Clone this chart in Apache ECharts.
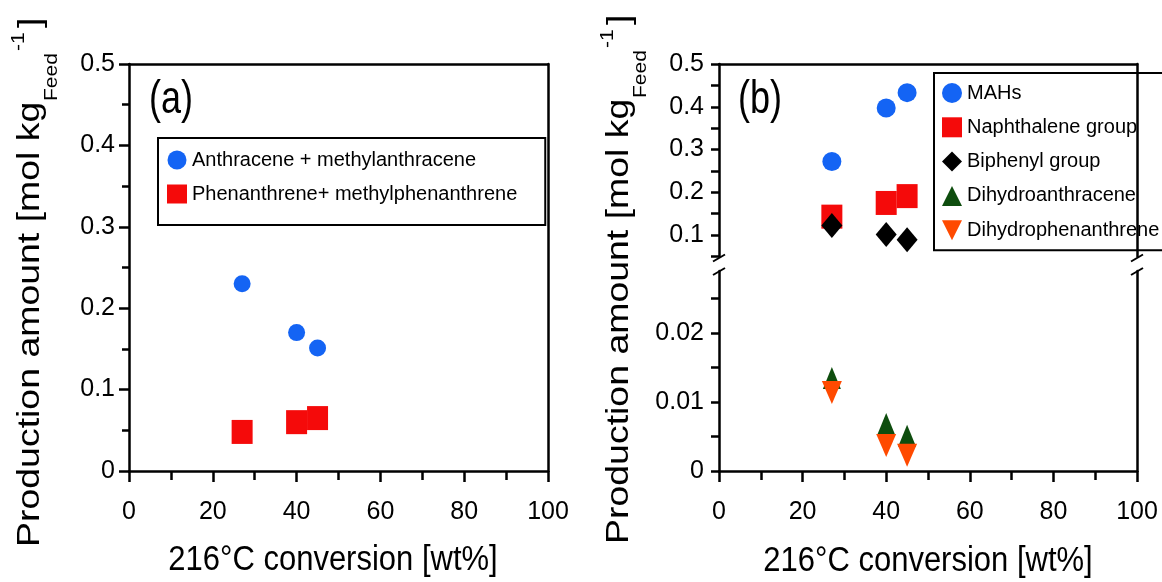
<!DOCTYPE html>
<html>
<head>
<meta charset="utf-8">
<script src="https://cdn.jsdelivr.net/npm/echarts@6/dist/echarts.min.js"></script>
<style>html,body{margin:0;padding:0;background:#fff;}#c{width:1162px;height:582px;}</style>
</head>
<body>
<div id="c"></div>
<script>
// ---------- data ----------
const convA = [27, 40, 45];
const anthracene = [0.230, 0.170, 0.151];
const phenanthrene = [0.048, 0.060, 0.065];

const convB = [27, 40, 45];
const mahs = [0.272, 0.397, 0.433];
const naphthalene = [0.143, 0.175, 0.191];
const biphenyl = [0.122, 0.101, 0.089];
const dihydroanthracene = [0.0135, 0.0068, 0.0051];
const dihydrophenanthrene = [0.0114, 0.0037, 0.0023];

const namesA = ['Anthracene + methylanthracene', 'Phenanthrene+ methylphenanthrene'];
const namesB = ['MAHs', 'Naphthalene group', 'Biphenyl group', 'Dihydroanthracene', 'Dihydrophenanthrene'];

const bTopLabels = [0.1, 0.2, 0.3, 0.4, 0.5];
const bTopTicks = [0.05, 0.1, 0.15, 0.2, 0.25, 0.3, 0.35, 0.4, 0.45, 0.5];
const bBotLabels = [0, 0.01, 0.02];
const bBotTicks = [0, 0.005, 0.01, 0.015, 0.02, 0.025];

const xTitle = '216°C conversion [wt%]';
const yTitleMain = 'Production amount [mol kg';
const yTitleSub = 'Feed';
const yTitleSup = '-1';

// ---------- style ----------
const FONT = "'Liberation Sans', Arial, sans-serif";
const BLACK = '#000';
const LW = 2.5;
const C_BLUE = '#1464F4', C_RED = '#F50A0A', C_BLACK = '#000000', C_GREEN = '#0E4D0E', C_ORANGE = '#FF4A00';

function pts(xs, ys) { return xs.map((x, i) => [x, ys[i]]); }

function lineOnly(extra) {
  return Object.assign({
    type: 'value', min: 0, max: 100,
    axisLine: { show: true, onZero: false, lineStyle: { color: BLACK, width: LW } },
    axisTick: { show: false }, axisLabel: { show: false },
    splitLine: { show: false }
  }, extra);
}
const labelStyle = { color: BLACK, fontSize: 25, fontFamily: FONT };

const chart = echarts.init(document.getElementById('c'), null, { renderer: 'canvas' });

const option = {
  backgroundColor: '#fff',
  animation: false,
  grid: [
    { left: 129, top: 64, width: 419, height: 407 },
    { left: 719, top: 64, width: 418, height: 192.4 },
    { left: 719, top: 271, width: 418, height: 200 }
  ],
  xAxis: [
    { type: 'value', gridIndex: 0, position: 'bottom', min: 0, max: 100, interval: 20,
      axisLine: { onZero: false, lineStyle: { color: BLACK, width: LW } },
      axisTick: { inside: false, length: 11, lineStyle: { color: BLACK, width: LW } },
      minorTick: { show: true, splitNumber: 2, length: 9, lineStyle: { color: BLACK, width: LW } },
      axisLabel: Object.assign({ margin: 29 }, labelStyle),
      splitLine: { show: false }, minorSplitLine: { show: false } },
    lineOnly({ gridIndex: 0, position: 'top' }),
    lineOnly({ gridIndex: 1, position: 'top' }),
    { type: 'value', gridIndex: 2, position: 'bottom', min: 0, max: 100, interval: 20,
      axisLine: { onZero: false, lineStyle: { color: BLACK, width: LW } },
      axisTick: { inside: false, length: 11, lineStyle: { color: BLACK, width: LW } },
      minorTick: { show: true, splitNumber: 2, length: 9, lineStyle: { color: BLACK, width: LW } },
      axisLabel: Object.assign({ margin: 29 }, labelStyle),
      splitLine: { show: false }, minorSplitLine: { show: false } }
  ],
  yAxis: [
    { type: 'value', gridIndex: 0, position: 'left', min: 0, max: 0.5, interval: 0.1,
      axisLine: { show: true, onZero: false, lineStyle: { color: BLACK, width: LW } },
      axisTick: { show: true, inside: false, length: 10, lineStyle: { color: BLACK, width: LW } },
      minorTick: { show: true, splitNumber: 2, length: 7, lineStyle: { color: BLACK, width: LW } },
      axisLabel: Object.assign({ margin: 14 }, labelStyle),
      splitLine: { show: false }, minorSplitLine: { show: false } },
    lineOnly({ gridIndex: 0, position: 'right', min: 0, max: 0.5 }),
    { type: 'value', gridIndex: 1, position: 'left', min: 0.05, max: 0.5,
      axisLine: { show: true, onZero: false, lineStyle: { color: BLACK, width: LW } },
      axisTick: { show: true, inside: false, length: 8, customValues: bTopTicks, lineStyle: { color: BLACK, width: LW } },
      axisLabel: Object.assign({ margin: 15, customValues: bTopLabels }, labelStyle),
      splitLine: { show: false } },
    lineOnly({ gridIndex: 1, position: 'right', min: 0.05, max: 0.5 }),
    { type: 'value', gridIndex: 2, position: 'left', min: 0, max: 0.029,
      axisLine: { show: true, onZero: false, lineStyle: { color: BLACK, width: LW } },
      axisTick: { show: true, inside: false, length: 8, customValues: bBotTicks, lineStyle: { color: BLACK, width: LW } },
      axisLabel: Object.assign({ margin: 15, customValues: bBotLabels }, labelStyle),
      splitLine: { show: false } },
    lineOnly({ gridIndex: 2, position: 'right', min: 0, max: 0.029 })
  ],
  legend: [
    { orient: 'vertical', left: 158, top: 138, itemWidth: 20, itemHeight: 19, itemGap: 14,
      padding: [12, 28, 21, 9], borderColor: BLACK, borderWidth: 2,
      textStyle: { color: BLACK, fontSize: 20, fontFamily: FONT },
      data: [{ name: namesA[0], icon: 'circle' }, { name: namesA[1], icon: 'rect' }] },
    { orient: 'vertical', left: 934, top: 73, itemWidth: 20, itemHeight: 20, itemGap: 14.3,
      padding: [10, 40, 10, 8], borderColor: BLACK, borderWidth: 2,
      textStyle: { color: BLACK, fontSize: 20, fontFamily: FONT },
      data: [{ name: namesB[0], icon: 'circle' }, { name: namesB[1], icon: 'rect' },
             { name: namesB[2], icon: 'diamond' }, { name: namesB[3], icon: 'triangle' },
             { name: namesB[4], icon: 'path://M0,0L20,0L10,20Z' }] }
  ],
  series: [
    { name: namesA[0], type: 'scatter', xAxisIndex: 0, yAxisIndex: 0, symbol: 'circle', symbolSize: 17,
      itemStyle: { color: C_BLUE, opacity: 1 }, data: pts(convA, anthracene) },
    { name: namesA[1], type: 'scatter', xAxisIndex: 0, yAxisIndex: 0, symbol: 'rect', symbolSize: [21, 24],
      itemStyle: { color: C_RED, opacity: 1 }, data: pts(convA, phenanthrene) },
    { name: namesB[0], type: 'scatter', xAxisIndex: 2, yAxisIndex: 2, symbol: 'circle', symbolSize: 19,
      itemStyle: { color: C_BLUE, opacity: 1 }, data: pts(convB, mahs) },
    { name: namesB[1], type: 'scatter', xAxisIndex: 2, yAxisIndex: 2, symbol: 'rect', symbolSize: [21, 24],
      itemStyle: { color: C_RED, opacity: 1 }, data: pts(convB, naphthalene) },
    { name: namesB[2], type: 'scatter', xAxisIndex: 2, yAxisIndex: 2, symbol: 'diamond', symbolSize: [21, 25],
      itemStyle: { color: C_BLACK, opacity: 1 }, data: pts(convB, biphenyl) },
    { name: namesB[3], type: 'scatter', xAxisIndex: 3, yAxisIndex: 4, symbol: 'triangle', symbolSize: [18, 22],
      itemStyle: { color: C_GREEN, opacity: 1 }, data: pts(convB, dihydroanthracene) },
    { name: namesB[4], type: 'scatter', xAxisIndex: 3, yAxisIndex: 4, symbol: 'triangle', symbolRotate: 180, symbolSize: [20, 23],
      itemStyle: { color: C_ORANGE, opacity: 1 }, data: pts(convB, dihydrophenanthrene) }
  ],
  graphic: []
};

function txt(x, y, text, size, opts) {
  return Object.assign({
    type: 'text', x: x, y: y, silent: true,
    style: { text: text, fontSize: size, fontFamily: FONT, fill: BLACK,
      align: (opts && opts.align) || 'left', textAlign: (opts && opts.align) || 'left',
      verticalAlign: 'middle', textVerticalAlign: 'middle' }
  }, opts && opts.t);
}
function yTitle(dx, dy) {
  const r = Math.PI / 2, s = 1.17;
  return [
    txt(30 + dx, 547 + dy, yTitleMain, 32, { t: { rotation: r, scaleX: s } }),
    txt(52 + dx, 101 + dy, yTitleSub, 18, { t: { rotation: r, scaleX: s } }),
    txt(19 + dx, 51 + dy, yTitleSup, 18, { t: { rotation: r, scaleX: s } }),
    txt(31 + dx, 28 + dy, ']', 32, { t: { rotation: r, scaleX: s } })
  ];
}
function brk(x) {
  return [258, 271.5].map(y => ({
    type: 'line', silent: true,
    shape: { x1: x - 6, y1: y + 3.5, x2: x + 6, y2: y - 3.5 },
    style: { stroke: BLACK, lineWidth: 2 }
  }));
}
option.graphic = [].concat(
  yTitle(0, 0), yTitle(589, -3),
  [txt(333, 560, xTitle, 31, { align: 'center', t: { scaleY: 1.12 } }),
   txt(928, 561, xTitle, 31, { align: 'center', t: { scaleY: 1.12 } }),
   txt(149, 100, '(a)', 36, { t: { scaleY: 1.3 } }),
   txt(738, 100, '(b)', 36, { t: { scaleY: 1.3 } })],
  brk(719), brk(1137)
);

chart.setOption(option);
</script>
</body>
</html>
